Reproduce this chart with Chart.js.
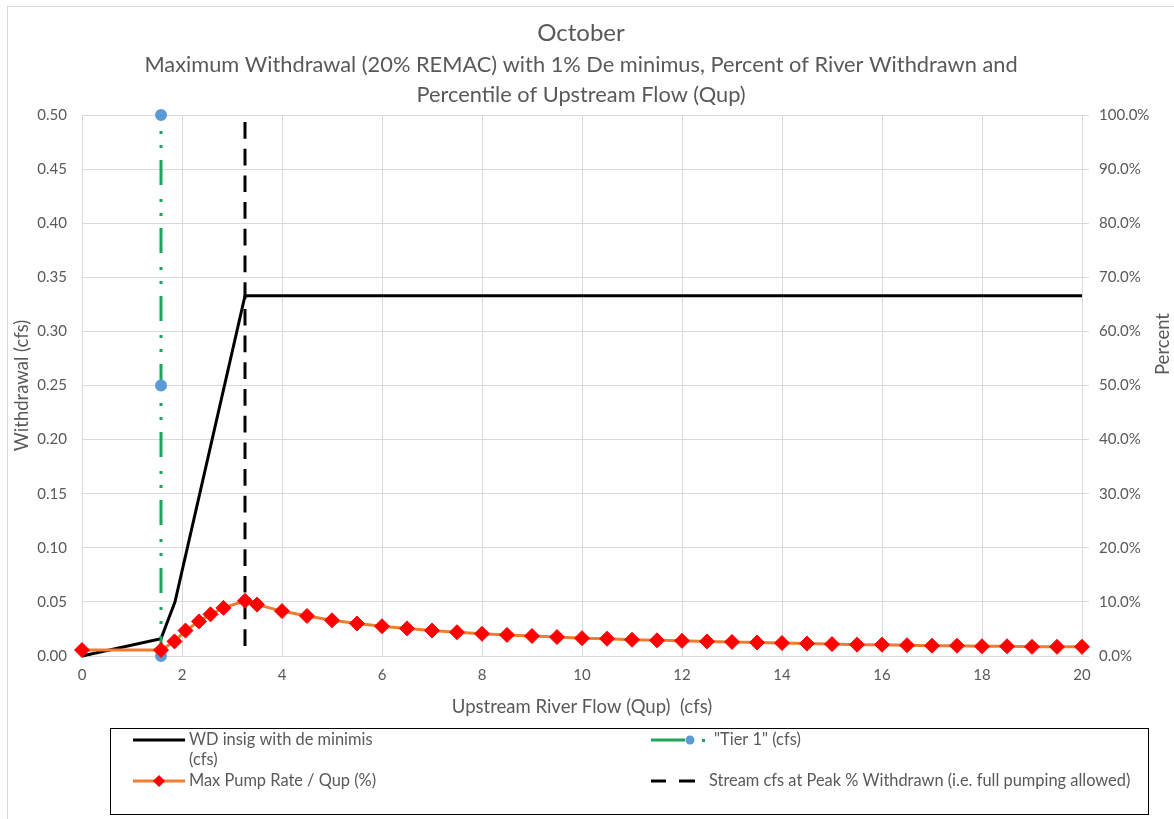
<!DOCTYPE html>
<html>
<head>
<meta charset="utf-8">
<script src="https://cdn.jsdelivr.net/npm/chart.js@4.4.0/dist/chart.umd.min.js"></script>
<style>
    html, body { margin: 0; padding: 0; background: #fff; }
    #frame { position: absolute; left: 7px; top: 6px; width: 1200px; height: 900px; border: 1px solid #d9d9d9; }
    #chart { position: absolute; left: 0; top: 0; }
</style>
</head>
<body>
<div id="frame"></div>
<canvas id="chart" width="1174" height="819"></canvas>
<script>
// ---- data ----
const wdFlow = [0, 1.58, 1.86, 3.26, 20];
const wdCfs = [0, 0.016, 0.05, 0.333, 0.333];

const pumpFlow = [0, 1.58, 1.85, 2.07, 2.34, 2.57, 2.83, 3.26, 3.5, 4, 4.5, 5, 5.5, 6, 6.5, 7, 7.5, 8, 8.5, 9, 9.5,
    10, 10.5, 11, 11.5, 12, 12.5, 13, 13.5, 14, 14.5, 15, 15.5, 16, 16.5, 17, 17.5, 18, 18.5, 19, 19.5, 20];
const pumpPct = [1.1, 1.1, 2.7, 4.7, 6.4, 7.7, 8.9, 10.2, 9.5, 8.3, 7.4, 6.6, 6.0, 5.5, 5.1, 4.7, 4.4, 4.1, 3.9, 3.7, 3.5,
    3.3, 3.2, 3.0, 2.9, 2.8, 2.7, 2.6, 2.5, 2.4, 2.3, 2.2, 2.1, 2.1, 2.0, 1.9, 1.9, 1.8, 1.8, 1.7, 1.7, 1.7];

const tier1Flow = [1.58, 1.58, 1.58];
const tier1Cfs = [0, 0.25, 0.5];

const peakFlow = [3.26, 3.26];
const peakCfs = [0, 0.5];

const titleText = "October";
const subtitleLines = [
    "Maximum Withdrawal (20% REMAC) with 1% De minimus, Percent of River Withdrawn and",
    "Percentile of Upstream Flow (Qup)"
];
const xTitle = "Upstream River Flow (Qup)  (cfs)";
const yTitle = "Withdrawal (cfs)";
const y1Title = "Percent";
const legendNames = ["WD insig with de minimis", "(cfs)", "\"Tier 1\" (cfs)", "Max Pump Rate / Qup (%)",
    "Stream cfs at Peak % Withdrawn (i.e. full pumping allowed)"];

const zip = (xs, ys) => xs.map((x, i) => ({ x: x, y: ys[i] }));

const GREY = "#595959";
const GRID = "#d9d9d9";
Chart.defaults.font.family = "Lato";

// titles, axis titles and the boxed legend
const textPlugin = {
    id: "texts",
    afterDraw(chart) {
        const ctx = chart.ctx;
        const a = chart.chartArea;
        ctx.save();
        ctx.fillStyle = GREY;
        ctx.textAlign = "center";
        ctx.textBaseline = "middle";
        ctx.font = "24px Lato";
        ctx.fillText(titleText, 581, 33);
        ctx.font = "21.8px Lato";
        ctx.fillText(subtitleLines[0], 581, 65);
        ctx.fillText(subtitleLines[1], 581, 95);

        ctx.font = "18.5px Lato";
        ctx.fillText(xTitle, (a.left + a.right) / 2, 707);
        ctx.save();
        ctx.translate(22, (a.top + a.bottom) / 2);
        ctx.rotate(-Math.PI / 2);
        ctx.fillText(yTitle, 0, 0);
        ctx.restore();
        ctx.save();
        ctx.translate(1163, 344);
        ctx.rotate(-Math.PI / 2);
        ctx.fillText(y1Title, 0, 0);
        ctx.restore();

        // legend box
        ctx.strokeStyle = "#000";
        ctx.lineWidth = 1;
        ctx.strokeRect(110.5, 728.5, 1038, 86);

        ctx.lineWidth = 3;
        // WD line
        ctx.strokeStyle = "#000";
        ctx.beginPath(); ctx.moveTo(133, 740); ctx.lineTo(185, 740); ctx.stroke();
        // pump line + diamond
        ctx.strokeStyle = "#ed7d31";
        ctx.beginPath(); ctx.moveTo(133, 781); ctx.lineTo(185, 781); ctx.stroke();
        ctx.fillStyle = "#ff0000";
        ctx.beginPath(); ctx.moveTo(159, 775); ctx.lineTo(165, 781); ctx.lineTo(159, 787); ctx.lineTo(153, 781); ctx.closePath(); ctx.fill();
        // tier 1
        ctx.strokeStyle = "#1fa45c";
        ctx.beginPath(); ctx.moveTo(651, 740); ctx.lineTo(685, 740); ctx.stroke();
        ctx.fillStyle = "#5b9bd5";
        ctx.beginPath(); ctx.arc(690, 740, 4.5, 0, Math.PI * 2); ctx.fill();
        ctx.fillStyle = "#1fa45c";
        ctx.fillRect(702, 739, 3, 3);
        // peak dashed
        ctx.strokeStyle = "#000";
        ctx.beginPath(); ctx.moveTo(651, 781); ctx.lineTo(666, 781); ctx.moveTo(679, 781); ctx.lineTo(695, 781); ctx.stroke();

        ctx.fillStyle = GREY;
        ctx.textAlign = "left";
        ctx.font = "16.4px Lato";
        ctx.fillText(legendNames[0], 189, 740);
        ctx.fillText(legendNames[1], 189, 760);
        ctx.fillText(legendNames[2], 714, 740);
        ctx.fillText(legendNames[3], 189, 781);
        ctx.fillText(legendNames[4], 709, 781);
        ctx.restore();
    }
};

new Chart(document.getElementById("chart"), {
    type: "scatter",
    data: {
        datasets: [
            {
                label: legendNames[3],
                data: zip(pumpFlow, pumpPct),
                yAxisID: "y1",
                showLine: true,
                borderColor: "#ed7d31",
                borderWidth: 3,
                pointStyle: "rectRot",
                pointRadius: 7.5,
                pointBackgroundColor: "#ff0000",
                pointBorderColor: "#ff0000",
                pointBorderWidth: 1,
                clip: false,
                order: 0
            },
            {
                label: legendNames[4],
                data: zip(peakFlow, peakCfs),
                yAxisID: "y",
                showLine: true,
                borderColor: "#000",
                borderWidth: 3,
                borderDash: [16.7, 10],
                borderDashOffset: 16.7,
                pointRadius: 0,
                clip: false,
                order: 1
            },
            {
                label: legendNames[2],
                data: zip(tier1Flow, tier1Cfs),
                yAxisID: "y",
                showLine: true,
                borderColor: "#1fa45c",
                borderWidth: 3,
                borderDash: [25, 12, 3, 11, 3, 14],
                borderDashOffset: 5,
                pointRadius: 4.5,
                pointBackgroundColor: "#5b9bd5",
                pointBorderColor: "#5b9bd5",
                clip: false,
                order: 2
            },
            {
                label: legendNames[0] + " " + legendNames[1],
                data: zip(wdFlow, wdCfs),
                yAxisID: "y",
                showLine: true,
                borderColor: "#000",
                borderWidth: 3,
                pointRadius: 0,
                clip: false,
                order: 3
            }
        ]
    },
    options: {
        responsive: false,
        animation: false,
        layout: { padding: { top: 115, left: 0, right: 0, bottom: 0 } },
        plugins: {
            legend: { display: false },
            tooltip: { enabled: false }
        },
        scales: {
            x: {
                type: "linear",
                min: 0,
                max: 20,
                ticks: { stepSize: 2, color: GREY, font: { size: 15 }, padding: 10 },
                grid: { color: GRID, drawTicks: false },
                border: { color: GRID },
                afterFit: s => { s.height = 163; }
            },
            y: {
                position: "left",
                min: 0,
                max: 0.5,
                ticks: { stepSize: 0.05, color: GREY, font: { size: 15 }, padding: 15, callback: v => v.toFixed(2) },
                grid: { color: GRID, drawTicks: false },
                border: { color: GRID },
                afterFit: s => { s.width = 82; }
            },
            y1: {
                position: "right",
                min: 0,
                max: 100,
                ticks: { stepSize: 10, color: GREY, font: { size: 15 }, padding: 10, callback: v => v.toFixed(1) + "%" },
                grid: { drawOnChartArea: false, color: GRID, drawTicks: true, tickLength: 7 },
                border: { color: GRID },
                afterFit: s => { s.width = 92; }
            }
        }
    },
    plugins: [textPlugin]
});
</script>
</body>
</html>
